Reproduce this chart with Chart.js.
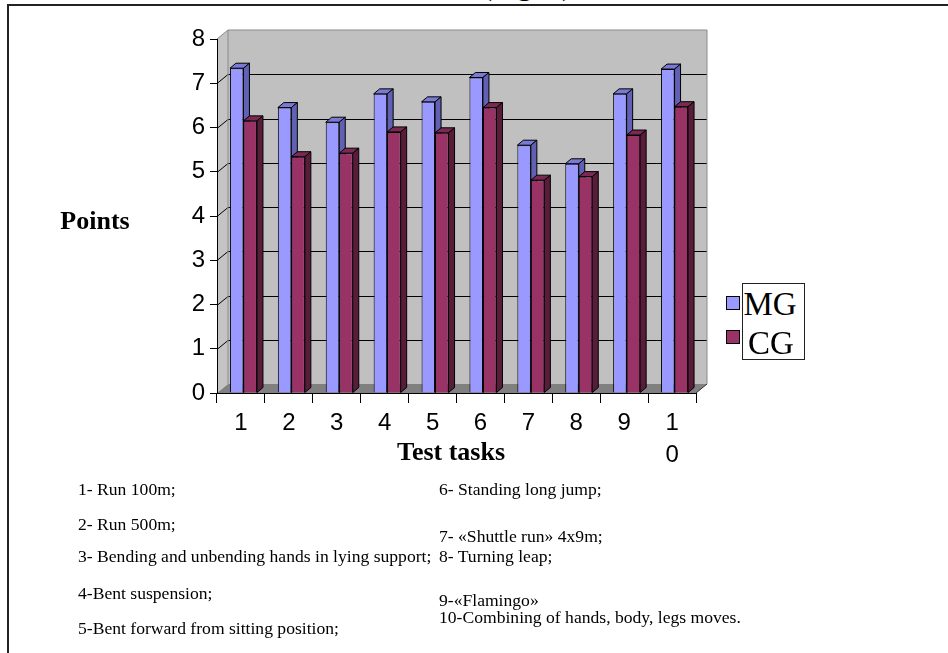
<!DOCTYPE html>
<html>
<head>
<meta charset="utf-8">
<script src="https://cdn.jsdelivr.net/npm/chart.js@4.4.1/dist/chart.umd.min.js"></script>
<style>
  html, body { margin:0; padding:0; background:#fff; }
  body { width:948px; height:653px; position:relative; overflow:hidden; }
  #c { position:absolute; left:0; top:0; }
  .t { position:absolute; white-space:nowrap; line-height:1; font-family:"Liberation Serif","Times New Roman",serif; color:#000; transform:translateY(-50%); }
  .c { transform:translate(-50%,-50%); }
  .b { font-weight:bold; font-size:26px; }
  .note { font-size:17.6px; }
  .frameTop { position:absolute; left:8px; top:4px; width:940px; height:2px; background:#222; }
  .frameLeft { position:absolute; left:7px; top:4px; width:2px; height:649px; background:#222; }
  #legBox { position:absolute; left:742px; top:283px; width:61px; height:75px; border:1px solid #222; background:#fff; }
  .mk { position:absolute; width:12px; height:12px; border:1px solid #000; }
  .leg { font-size:33px; }
</style>
</head>
<body>
<div class="t" style="left:482px; top:-30px; transform:none; font-size:30px; line-height:30px;">(Fig. 1)</div>
<canvas id="c" width="948" height="653"></canvas>
<div class="frameTop"></div>
<div class="frameLeft"></div>
<div class="t b c" style="left:95px; top:221px;">Points</div>
<div class="t b c" style="left:451px; top:452px;">Test tasks</div>
<div id="legBox"></div>
<div class="mk" style="left:726px; top:296px; background:#9999FF;"></div>
<div class="mk" style="left:726px; top:330px; background:#993366;"></div>
<div class="t leg c" style="left:770px; top:304px;">MG</div>
<div class="t leg c" style="left:771px; top:343px;">CG</div>
<div id="notes"></div>
<script>
// ---- data ----
const categories = ['1','2','3','4','5','6','7','8','9','10'];
const tickLabels = ['1','2','3','4','5','6','7','8','9',['1','0']];
const seriesNames = ['MG','CG'];
const mgValues = [7.34, 6.45, 6.12, 6.76, 6.58, 7.13, 5.60, 5.18, 6.76, 7.32];
const cgValues = [6.15, 5.34, 5.42, 5.90, 5.88, 6.45, 4.81, 4.89, 5.83, 6.47];
const yMin = 0, yMax = 8, yStep = 1;
const notesLeft = [
  '1- Run 100m;',
  '2- Run 500m;',
  '3-  Bending and unbending hands in lying support;',
  '4-Bent suspension;',
  '5-Bent forward from sitting position;'
];
const notesRight = [
  '6- Standing long jump;',
  '7- \u00abShuttle run\u00bb 4x9m;',
  '8- Turning leap;',
  '9-\u00abFlamingo\u00bb',
  '10-Combining of hands, body, legs moves.'
];

// ---- notes (text) ----
const notesEl = document.getElementById('notes');
const leftY = [490, 525, 557, 594, 629];
const rightY = [490, 537, 557, 601, 618];
notesLeft.forEach((s, i) => {
  const d = document.createElement('div');
  d.className = 't note'; d.textContent = s;
  d.style.left = '78px'; d.style.top = leftY[i] + 'px';
  notesEl.appendChild(d);
});
notesRight.forEach((s, i) => {
  const d = document.createElement('div');
  d.className = 't note'; d.textContent = s;
  d.style.left = '439px'; d.style.top = rightY[i] + 'px';
  notesEl.appendChild(d);
});

// ---- 3D look ----
const WDX = 11, WDY = -9;   // wall depth
const BDX = 6, BDY = -5;    // bar depth
const SHIFT = 2.5;
const sideColors = ['#6060B4', '#5A1C3B'];
const topColors = ['#7A7AD4', '#7A2A52'];

function poly(ctx, pts, fill, stroke) {
  ctx.beginPath();
  ctx.moveTo(pts[0][0], pts[0][1]);
  for (let i = 1; i < pts.length; i++) ctx.lineTo(pts[i][0], pts[i][1]);
  ctx.closePath();
  if (fill) { ctx.fillStyle = fill; ctx.fill(); }
  if (stroke) { ctx.strokeStyle = stroke; ctx.lineWidth = 1; ctx.stroke(); }
}

const walls = {
  id: 'walls',
  beforeDraw(chart) {
    const { ctx, chartArea: a, scales: { y } } = chart;
    const L = a.left, R = a.right, T = a.top, B = a.bottom;
    ctx.save();
    // back wall
    poly(ctx, [[L+WDX, T+WDY], [R+WDX, T+WDY], [R+WDX, B+WDY], [L+WDX, B+WDY]], '#C0C0C0', null);
    // side wall
    poly(ctx, [[L, T], [L+WDX, T+WDY], [L+WDX, B+WDY], [L, B]], '#C4C4C4', null);
    // floor
    poly(ctx, [[L, B], [L+WDX, B+WDY], [R+WDX, B+WDY], [R, B]], '#808080', null);
    // gridlines
    ctx.strokeStyle = '#000'; ctx.lineWidth = 1;
    y.ticks.forEach(t => {
      if (t.value <= yMin || t.value >= yMax) return;
      const py = Math.round(y.getPixelForValue(t.value)) + 0.5;
      ctx.beginPath();
      ctx.moveTo(L, py);
      ctx.lineTo(L+WDX, py+WDY);
      ctx.lineTo(R+WDX, py+WDY);
      ctx.stroke();
    });
    // outlines
    ctx.strokeStyle = '#8a8a8a';
    ctx.beginPath();
    ctx.moveTo(L, T); ctx.lineTo(L+WDX, T+WDY); ctx.lineTo(R+WDX, T+WDY); ctx.lineTo(R+WDX, B+WDY);
    ctx.moveTo(L+WDX, T+WDY); ctx.lineTo(L+WDX, B+WDY);
    ctx.stroke();
    ctx.strokeStyle = '#333';
    ctx.beginPath();
    ctx.moveTo(R, B); ctx.lineTo(R+WDX, B+WDY);
    ctx.stroke();
    ctx.restore();
  },
  beforeDatasetsDraw(chart) {
    const ctx = chart.ctx;
    ctx.save();
    ctx.translate(SHIFT, 0);
    [0, 1].forEach(di => {
      const meta = chart.getDatasetMeta(di);
      meta.data.forEach(bar => {
        const p = bar.getProps(['x', 'y', 'base', 'width'], true);
        const l = p.x - p.width/2, r = p.x + p.width/2;
        poly(ctx, [[l, p.y], [l+BDX, p.y+BDY], [r+BDX, p.y+BDY], [r, p.y]], topColors[di], '#000');
        poly(ctx, [[r, p.y], [r+BDX, p.y+BDY], [r+BDX, p.base+BDY], [r, p.base]], sideColors[di], '#000');
      });
    });
  },
  afterDatasetsDraw(chart) {
    chart.ctx.restore();
  }
};

new Chart(document.getElementById('c'), {
  type: 'bar',
  data: {
    labels: tickLabels,
    datasets: [
      { label: seriesNames[0], data: mgValues, backgroundColor: '#9999FF', borderColor: '#000', borderWidth: 1,
        barPercentage: 1, categoryPercentage: 0.564 },
      { label: seriesNames[1], data: cgValues, backgroundColor: '#993366', borderColor: '#000', borderWidth: 1,
        barPercentage: 1, categoryPercentage: 0.564 }
    ]
  },
  options: {
    responsive: false,
    devicePixelRatio: 1,
    animation: false,
    layout: { padding: { left: 0, top: 39, right: 252, bottom: 0 } },
    plugins: { legend: { display: false }, tooltip: { enabled: false }, title: { display: false } },
    scales: {
      x: {
        grid: { display: true, drawOnChartArea: false, offset: true, tickLength: 10, color: '#000', lineWidth: 1 },
        border: { display: true, color: '#000', width: 1 },
        ticks: { color: '#000', font: { family: 'Liberation Sans, Arial, sans-serif', size: 24, lineHeight: 1.33 },
                  padding: 4, maxRotation: 0, autoSkip: false },
        afterFit(s) { s.height = 260; }
      },
      y: {
        min: yMin, max: yMax,
        grid: { display: true, drawOnChartArea: false, tickLength: 7, color: '#000', lineWidth: 1 },
        border: { display: true, color: '#000', width: 1 },
        ticks: { stepSize: yStep, color: '#000', font: { family: 'Liberation Sans, Arial, sans-serif', size: 24 }, padding: 5 },
        afterFit(s) { s.width = 217; }
      }
    }
  },
  plugins: [walls]
});
</script>
</body>
</html>
